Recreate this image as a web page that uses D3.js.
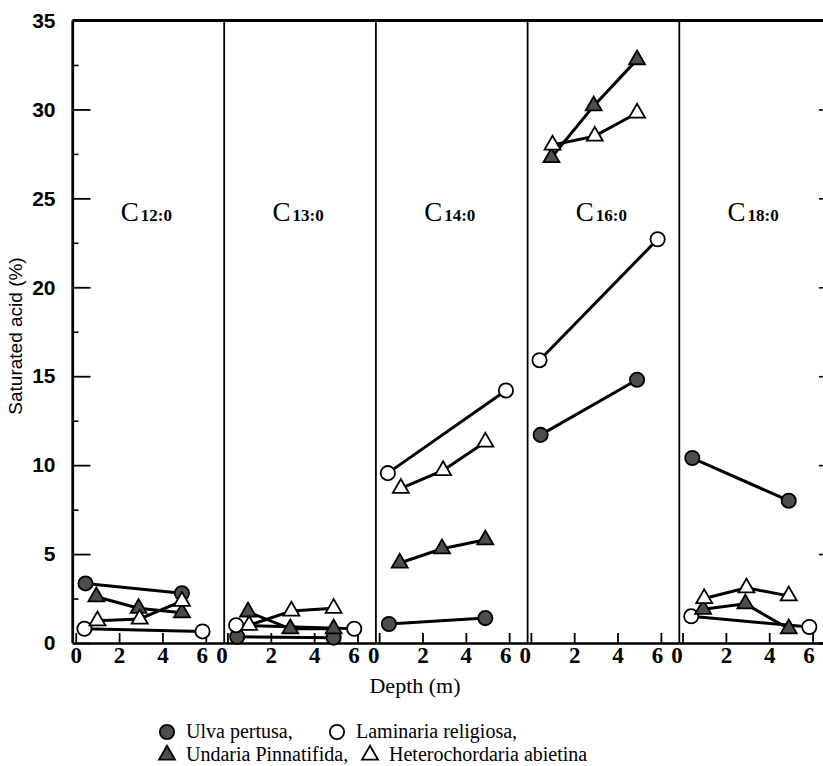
<!DOCTYPE html>
<html><head><meta charset="utf-8">
<script src="https://cdn.jsdelivr.net/npm/d3@7"></script>
<style>body{margin:0;background:#fff}</style>
</head><body>
<svg id="chart" width="823" height="766"></svg>
<script>
// ---- data ----
const acids = ["12:0","13:0","14:0","16:0","18:0"];
const ulvaDepth = [0.45, 4.9];
const laminariaDepth = [0.4, 5.85];
const undariaDepth = [0.95, 2.9, 4.9];
const heteroDepth = [1.0, 2.95, 4.9];
const ulvaValues = [[3.35,2.8],[0.35,0.3],[1.07,1.4],[11.7,14.8],[10.4,8.0]];
const laminariaValues = [[0.8,0.65],[1.0,0.8],[9.55,14.2],[15.9,22.7],[1.5,0.9]];
const undariaValues = [[2.6,1.95,1.7],[1.75,0.8,0.8],[4.5,5.3,5.8],[27.3,30.2,32.8],[1.9,2.2,0.8]];
const heteroValues = [[1.25,1.35,2.35],[1.0,1.8,1.95],[8.7,9.7,11.3],[28.0,28.5,29.8],[2.5,3.1,2.65]];
const yTicks = [0,5,10,15,20,25,30,35];
const yMinorTicks = [2.5,7.5,12.5,17.5,22.5,27.5,32.5];
const xTicks = [0,2,4,6];
const legendLabels = ["Ulva pertusa,","Laminaria religiosa,","Undaria Pinnatifida,","Heterochordaria abietina"];
const yTitle = "Saturated acid (%)";
const xTitle = "Depth (m)";

// ---- layout ----
const svg = d3.select("#chart");
const plotLeft = 72.5, panelW = 151.7, plotTop = 20.5, plotBottom = 643;
const y = d3.scaleLinear().domain([0,35]).range([plotBottom, plotTop]);
const xs = acids.map((a,i) => d3.scaleLinear().domain([-0.15, 6.85]).range([plotLeft+i*panelW, plotLeft+(i+1)*panelW]));

const series = [
  {depth: ulvaDepth, values: ulvaValues, shape: d3.symbolCircle, size: 160, filled: true},
  {depth: laminariaDepth, values: laminariaValues, shape: d3.symbolCircle, size: 160, filled: false},
  {depth: undariaDepth, values: undariaValues, shape: d3.symbolTriangle, size: 110, filled: true},
  {depth: heteroDepth, values: heteroValues, shape: d3.symbolTriangle, size: 110, filled: false}
];
const fillDark = "#4d4d4d";
const serif = "'Liberation Serif','Times New Roman',serif";

// frame: top line, dividers
svg.append("line").attr("x1", plotLeft).attr("x2", 823).attr("y1", plotTop).attr("y2", plotTop)
  .attr("stroke","#000").attr("stroke-width",3);
acids.forEach((a,i) => {
  const xl = plotLeft + i*panelW;
  svg.append("line").attr("x1", xl).attr("x2", xl).attr("y1", plotTop).attr("y2", plotBottom)
    .attr("stroke","#000").attr("stroke-width", i===0 ? 2.2 : 1.8);
});
// right border (mostly off-canvas) with inward ticks
const rightX = plotLeft + 5*panelW;
svg.append("g").attr("transform", `translate(${rightX},0)`)
  .call(d3.axisRight(y).tickValues(yTicks).tickSize(-12).tickFormat(""))
  .call(g => g.selectAll("line").attr("stroke-width",1.6))
  .call(g => g.select(".domain").attr("stroke-width",2));

// left axis
const yAxisG = svg.append("g").attr("transform", `translate(${plotLeft},0)`)
  .call(d3.axisLeft(y).tickValues(yTicks).tickSize(-18).tickPadding(17).tickSizeOuter(0));
yAxisG.select(".domain").attr("stroke-width", 2.2);
yAxisG.selectAll(".tick line").attr("stroke-width", 1.8);
yAxisG.selectAll("text")
  .style("font-family","'Liberation Sans Narrow','Liberation Sans',Arial,sans-serif")
  .style("font-weight","bold").style("font-size","21px").attr("fill","#000");
svg.append("g").attr("transform", `translate(${plotLeft},0)`)
  .call(d3.axisLeft(y).tickValues(yMinorTicks).tickSize(-6).tickFormat("").tickSizeOuter(0))
  .call(g => g.select(".domain").remove())
  .call(g => g.selectAll("line").attr("stroke-width",1.6));

// bottom axis per panel
xs.forEach((x,i) => {
  const g = svg.append("g").attr("transform", `translate(0,${plotBottom})`)
    .call(d3.axisBottom(x).tickValues(xTicks).tickFormat(d3.format("d"))
      .tickSize(-10).tickPadding(4).tickSizeOuter(0));
  g.select(".domain").attr("stroke-width", 2.5);
  g.selectAll(".tick line").attr("stroke-width", 1.8);
  g.selectAll("text").style("font-family", serif).style("font-size","23px")
    .style("font-weight","bold").attr("fill","#000")
    .attr("dx", d => (d===0 && i>0) ? -6 : (d===6 ? -4 : 0));
});

// panel labels
acids.forEach((a,i) => {
  const cx = plotLeft + (i+0.5)*panelW - 2;
  const t = svg.append("text").attr("x", cx).attr("y", 221).attr("text-anchor","middle")
    .style("font-family", serif).attr("fill","#000");
  t.append("tspan").style("font-size","27px").text("C");
  t.append("tspan").style("font-size","17px").style("font-weight","bold").attr("dx",2).text(a);
});

// lines then markers
const linesG = svg.append("g");
const marksG = svg.append("g");
series.forEach(s => {
  s.values.forEach((vals,i) => {
    const pts = vals.map((v,j) => [xs[i](s.depth[j]), y(v)]);
    linesG.append("path").attr("d", d3.line()(pts)).attr("fill","none")
      .attr("stroke","#000").attr("stroke-width",3);
    pts.forEach(p => {
      marksG.append("path").attr("d", d3.symbol(s.shape, s.size)())
        .attr("transform", `translate(${p[0]},${p[1]})`)
        .attr("fill", s.filled ? fillDark : "#fff")
        .attr("stroke","#000").attr("stroke-width", 1.8);
    });
  });
});

// titles
svg.append("text").attr("transform","translate(22,336) rotate(-90)").attr("text-anchor","middle")
  .style("font-family","'Liberation Sans',Arial,sans-serif").style("font-size","19px").attr("fill","#000")
  .text(yTitle);
svg.append("text").attr("x", 415).attr("y", 693).attr("text-anchor","middle")
  .style("font-family", serif).style("font-size","22px").attr("fill","#000")
  .text(xTitle);

// legend
const legendPos = [[167,732],[337,732],[167,755],[370,755]];
series.forEach((s,k) => {
  const [lx,ly] = legendPos[k];
  svg.append("path").attr("d", d3.symbol(s.shape, s.size)())
    .attr("transform", `translate(${lx},${ly})`)
    .attr("fill", s.filled ? fillDark : "#fff").attr("stroke","#000").attr("stroke-width",1.8);
  svg.append("text").attr("x", lx+19).attr("y", ly+6)
    .style("font-family", serif).style("font-size","20px").attr("fill","#000")
    .text(legendLabels[k]);
});
</script>
</body></html>
